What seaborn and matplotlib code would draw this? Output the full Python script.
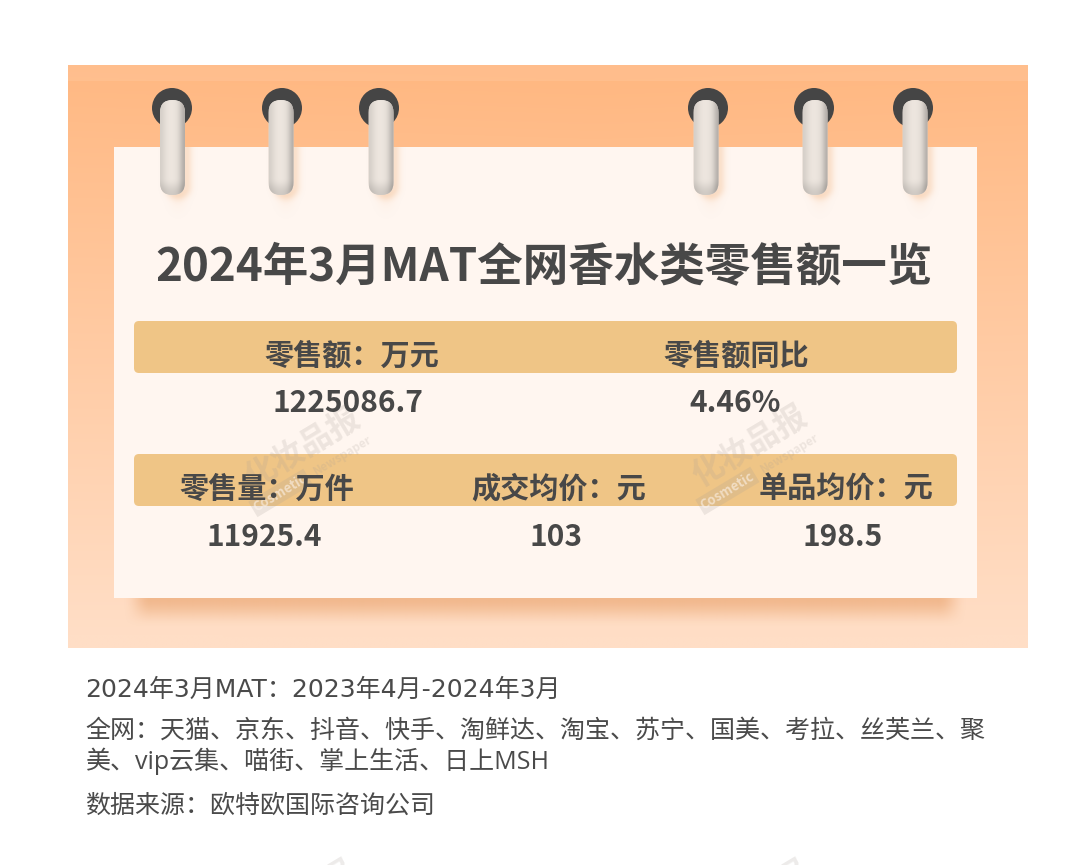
import numpy as np
import matplotlib
matplotlib.use("Agg")
import matplotlib.pyplot as plt
from matplotlib.patches import FancyBboxPatch, Rectangle, Circle
import seaborn as sns

sns.set_theme(style="white")
plt.rcParams['font.family'] = ['Noto Sans CJK SC', 'DejaVu Sans']

title = "2024年3月MAT全网香水类零售额一览"
row1_labels = ["零售额：万元", "零售额同比"]
row1_values = ["1225086.7", "4.46%"]
row2_labels = ["零售量：万件", "成交均价：元", "单品均价：元"]
row2_values = ["11925.4", "103", "198.5"]
notes = ["2024年3月MAT：2023年4月-2024年3月",
         "全网：天猫、京东、抖音、快手、淘鲜达、淘宝、苏宁、国美、考拉、丝芙兰、聚",
         "美、vip云集、喵街、掌上生活、日上MSH",
         "数据来源：欧特欧国际咨询公司"]

INK = "#484848"
fig = plt.figure(figsize=(10.8, 8.65), dpi=100, facecolor="white")
ax = fig.add_axes([0, 0, 1, 1])
ax.axis("off")


def lim():
    ax.set_xlim(0, 1080); ax.set_ylim(865, 0)


def smooth(v):
    v = np.clip(v, 0, 1)
    return v * v * (3 - 2 * v)


# background panel gradient
yy, xx = np.mgrid[0:1:300j, 0:1:300j]
t = np.clip(yy * 1.02 + 0.06 * np.abs(xx - 0.55) * (1 - yy), 0, 1)
c0 = np.array([255, 183, 128]) / 255; c1 = np.array([255, 222, 198]) / 255
grad = c0 + (c1 - c0)[None, None, :] * t[..., None]
ax.imshow(grad, extent=(68, 1028, 648, 65), aspect="auto", zorder=1, interpolation="bilinear")
ax.add_patch(Rectangle((68, 65), 960, 16, fc="#FFCBA3", alpha=.35, ec="none", zorder=1.1))

# paper shadow
sy, sx = np.mgrid[598:632:68j, 120:972:400j]
salpha = .5 * (1 - smooth((sy - 598) / 30)) * smooth((sx - 122) / 28) * smooth((968 - sx) / 28)
srgba = np.zeros(sx.shape + (4,))
srgba[..., :3] = np.array([228, 150, 90]) / 255
srgba[..., 3] = salpha
ax.imshow(srgba, extent=(120, 972, 632, 598), aspect="auto", zorder=1.5, interpolation="bilinear")
# paper
ax.add_patch(Rectangle((114, 147), 863, 451, fc="#FFF6F0", ec="none", zorder=2))

# header bands
for y0 in (321, 454):
    ax.add_patch(FancyBboxPatch((134, y0), 823, 52, boxstyle="round,pad=0,rounding_size=5",
                                fc="#EFC586", ec="none", zorder=2.5))


def watermark(cx, cy, full=True):
    ang = 31
    r = np.deg2rad(ang)
    ux, uy = np.cos(r), -np.sin(r)
    vx, vy = np.sin(r), np.cos(r)
    col = "#A89E96"
    ax.text(cx, cy, "化妆品报", rotation=ang, rotation_mode="anchor", ha="center", va="center",
            fontsize=23, fontweight="bold", color=col, alpha=.2, zorder=3)
    if not full:
        return
    x2, y2 = cx + vx * 26 - ux * 42, cy + vy * 26 - uy * 42
    ax.text(x2, y2, "Cosmetic", rotation=ang, rotation_mode="anchor", ha="center", va="center",
            fontsize=9.5, fontweight="bold", color="#FFF6F0",
            bbox=dict(boxstyle="square,pad=0.15", fc=col, ec="none", alpha=.2), alpha=.55, zorder=3)
    x3, y3 = cx + vx * 26 + ux * 31, cy + vy * 26 + uy * 31
    ax.text(x3, y3, "Newspaper", rotation=ang, rotation_mode="anchor", ha="center", va="center",
            fontsize=8.5, fontweight="bold", color=col, alpha=.2, zorder=3)


watermark(303, 449)
watermark(750, 447)
watermark(298, 902, full=False)
watermark(752, 902, full=False)

# rings
ring_x = [172, 282, 379, 708, 814, 913]
rod_x = [172.5, 281, 381, 706, 815, 915]
prof = np.array([.84, .87, .90, .92, .93, .93, .92, .90, .85, .77, .70])
ny = 100
ends = 1 - .12 * smooth((np.linspace(100, 195, ny) - 178) / 17)
rod_v = prof[None, :] * ends[:, None]
rod_rgb = np.stack([rod_v, rod_v * .97, rod_v * .94], -1).clip(0, 1)
for rx, xc in zip(ring_x, rod_x):
    ax.add_patch(Circle((rx, 108), 20, fc="#454545", ec="none", zorder=3.5))
    # soft shadow of the rod on the paper
    hy, hx = np.mgrid[147:222:75j, xc - 16:xc + 30:46j]
    seg_y = np.clip(hy, 147, 186)
    d = np.hypot(hx - (xc + 5), hy - seg_y)
    ha = .3 * np.exp(-np.maximum(d - 9, 0) ** 2 / 30)
    ha += .08 * np.exp(-(hx - xc - 5) ** 2 / 80) * np.exp(-np.maximum(hy - 195, 0) ** 2 / 200) * (hy > 190)
    hrgba = np.zeros(hx.shape + (4,))
    hrgba[..., :3] = np.array([240, 175, 120]) / 255
    hrgba[..., 3] = ha
    ax.imshow(hrgba, extent=(xc - 16, xc + 30, 222, 147), aspect="auto", zorder=2.7, interpolation="bilinear")
    cap = FancyBboxPatch((xc - 12.5, 100), 25, 95, boxstyle="round,pad=0,rounding_size=12.5",
                         fc="#DDD4CD", ec="none", zorder=4)
    ax.add_patch(cap)
    im = ax.imshow(rod_rgb, extent=(xc - 12.5, xc + 12.5, 195, 100), aspect="auto",
                   zorder=4.1, interpolation="bicubic")
    im.set_clip_path(cap)
lim()

# text
ax.text(544, 267.5, title, ha="center", va="center", fontsize=32.8, fontweight="bold", color=INK, zorder=5)
for x, s in zip([351.5, 736], row1_labels):
    ax.text(x, 355.5, s, ha="center", va="center", fontsize=21, fontweight="bold", color=INK, zorder=5)
for x, s in zip([347.5, 735.5], row1_values):
    ax.text(x, 403.5, s, ha="center", va="center", fontsize=21.5, fontweight="bold", color=INK, zorder=5)
for x, s in zip([267, 559, 846], row2_labels):
    ax.text(x, 488.5, s, ha="center", va="center", fontsize=21, fontweight="bold", color=INK, zorder=5)
for x, s in zip([264, 555.5, 842.5], row2_values):
    ax.text(x, 536.5, s, ha="center", va="center", fontsize=21.5, fontweight="bold", color=INK, zorder=5)
note_fam = [['DejaVu Sans', 'Noto Sans CJK SC'], ['Open Sans', 'Noto Sans CJK SC'],
            ['Open Sans', 'Noto Sans CJK SC'], ['Open Sans', 'Noto Sans CJK SC']]
for y, s, fam in zip([690, 731, 761, 806], notes, note_fam):
    ax.text(85.5, y, s, ha="left", va="center", fontsize=18, color="#4A4A4A", family=fam, zorder=5)

fig.savefig("out.png", dpi=100, facecolor="white")
